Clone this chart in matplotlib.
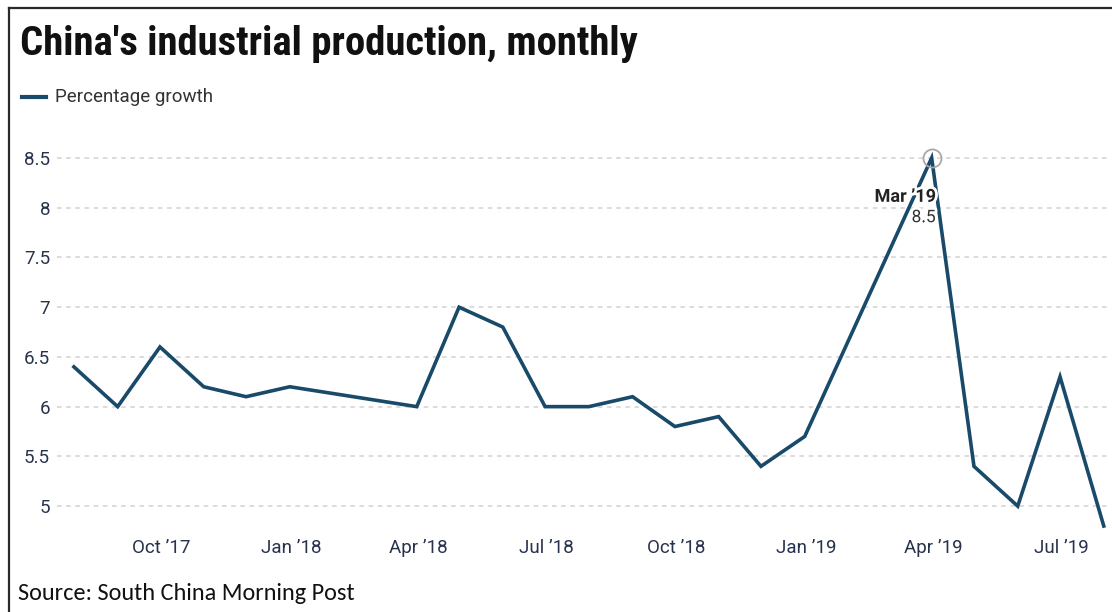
import matplotlib
matplotlib.use("Agg")
import matplotlib.pyplot as plt
import matplotlib.dates as mdates
import matplotlib.patheffects as pe
from matplotlib.lines import Line2D

# monthly industrial output growth, %, stamped at month end
# (Jan/Feb are reported combined, so they are absent)
dates = [
    "2017-07-31", "2017-08-31", "2017-09-30", "2017-10-31", "2017-11-30",
    "2017-12-31", "2018-03-31", "2018-04-30", "2018-05-31", "2018-06-30",
    "2018-07-31", "2018-08-31", "2018-09-30", "2018-10-31", "2018-11-30",
    "2018-12-31", "2019-03-31", "2019-04-30", "2019-05-31", "2019-06-30",
    "2019-07-31",
]
growth = [6.4, 6.0, 6.6, 6.2, 6.1, 6.2, 6.0, 7.0, 6.8, 6.0, 6.0, 6.1,
          5.8, 5.9, 5.4, 5.7, 8.5, 5.4, 5.0, 6.3, 4.8]

xtick_dates = ["2017-10-01", "2018-01-01", "2018-04-01", "2018-07-01",
               "2018-10-01", "2019-01-01", "2019-04-01", "2019-07-01"]
xtick_labels = ["Oct \u201917", "Jan \u201918", "Apr \u201918", "Jul \u201918",
                "Oct \u201918", "Jan \u201919", "Apr \u201919", "Jul \u201919"]
yticks = [5, 5.5, 6, 6.5, 7, 7.5, 8, 8.5]

peak_idx = 16
peak_label = "Mar \u201919"

LINE = "#194a69"
TEXT = "#27324c"
GRID = "#d2d2d2"
ROBOTO = ["Roboto", "DejaVu Sans"]

x = mdates.datestr2num(dates)

W, H = 1112, 612
fig = plt.figure(figsize=(W / 100, H / 100), dpi=100)
fig.patch.set_facecolor("white")

ax = fig.add_axes([57 / W, 1 - 531 / H, (1108 - 57) / W, (531 - 148) / H])
ax.plot(x, growth, color=LINE, lw=2.6, solid_joinstyle="miter", zorder=3,
        clip_on=False)

ax.set_xlim(mdates.datestr2num("2017-07-19"), mdates.datestr2num("2019-08-03"))
ax.set_ylim(4.75, 8.6)

ax.set_yticks(yticks)
ax.set_yticklabels([f"{v:g}" for v in yticks])
ax.set_xticks(mdates.datestr2num(xtick_dates))
ax.set_xticklabels(xtick_labels)
ax.tick_params(length=0, labelsize=13.5, labelcolor=TEXT)
ax.tick_params(axis="y", pad=5)
ax.tick_params(axis="x", pad=6)
for lab in ax.get_xticklabels() + ax.get_yticklabels():
    lab.set_fontfamily(ROBOTO)

ax.grid(axis="y", color=GRID, lw=1.1, ls=(0, (3, 3)))
ax.set_axisbelow(True)
for s in ax.spines.values():
    s.set_visible(False)

# highlighted peak: hollow marker and label
px, py = x[peak_idx], growth[peak_idx]
ax.plot(px, py, marker="o", ms=13, mfc="none", mec="#a8a8a8", mew=1.3,
        zorder=4, clip_on=False)
halo = [pe.withStroke(linewidth=4, foreground="white")]
ax.annotate(peak_label, (px, py), xytext=(3, -28), textcoords="offset points",
            ha="right", va="center", fontsize=13, fontweight="bold",
            color="#222222", family=ROBOTO, path_effects=halo, zorder=5)
ax.annotate(f"{py:g}", (px, py), xytext=(3, -43), textcoords="offset points",
            ha="right", va="center", fontsize=12.5, color="#333333",
            family=ROBOTO, path_effects=halo, zorder=5)

# title, legend and source
fig.text(20 / W, 1 - 44 / H, "China's industrial production, monthly",
         fontsize=29.3, fontweight="bold", color="#111111", va="center",
         family=["Roboto Condensed", "Roboto", "DejaVu Sans"])
fig.add_artist(Line2D([22 / W, 46 / W], [1 - 97 / H] * 2, color=LINE, lw=3))
fig.text(55 / W, 1 - 97 / H, "Percentage growth", fontsize=13.5,
         color="#333333", va="center", family=ROBOTO)
fig.text(18 / W, 1 - 594 / H, "Source: South China Morning Post",
         fontsize=17.5, color="#111111", va="center",
         family=["Carlito", "Lato", "DejaVu Sans"])

# frame along the top and left edges
fig.add_artist(Line2D([9 / W, 1], [1 - 8 / H] * 2, color="#2a2a2a", lw=1.6))
fig.add_artist(Line2D([9 / W] * 2, [0, 1 - 8 / H], color="#2a2a2a", lw=1.6))

fig.savefig("out.png", dpi=100, facecolor="white")
